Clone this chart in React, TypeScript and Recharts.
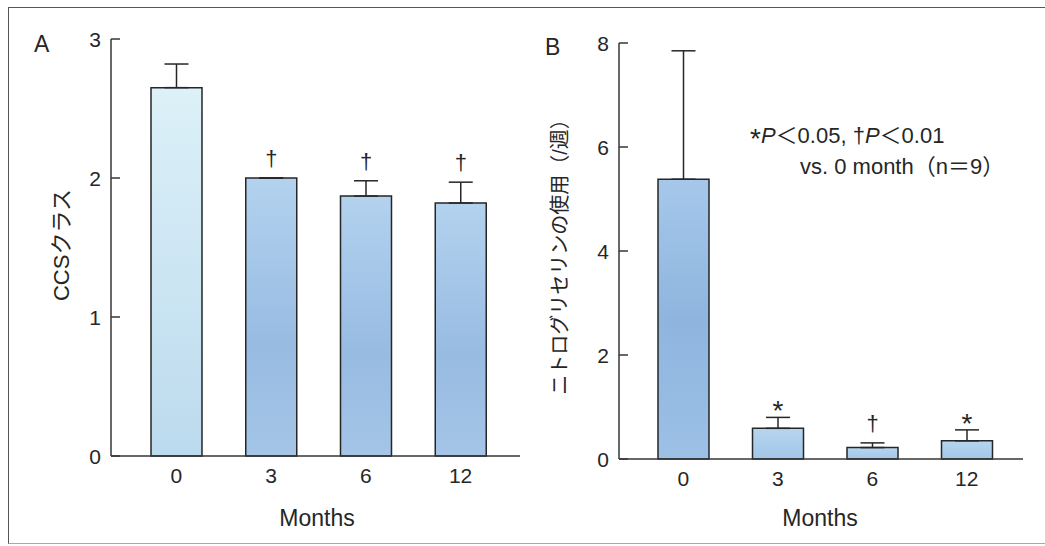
import React from 'react';
import { BarChart, Bar, XAxis, YAxis, ErrorBar, Cell, LabelList, Label } from 'recharts';

// months after treatment
const months = ['0', '3', '6', '12'];

// panel A: CCS class
const ccsMean = [2.65, 2.0, 1.87, 1.82];
const ccsSem = [0.17, 0, 0.11, 0.15];
const ccsMarks = ['', '†', '†', '†'];
const ccsTicks = [0, 1, 2, 3];

// panel B: nitroglycerin use per week
const ntgMean = [5.38, 0.59, 0.22, 0.35];
const ntgSem = [2.47, 0.21, 0.09, 0.21];
const ntgMarks = ['', '*', '†', '*'];
const ntgTicks = [0, 2, 4, 6, 8];

const FONT = '"Liberation Sans", Arial, "Noto Sans CJK JP", sans-serif';
const JP = '"Liberation Sans", "Noto Sans CJK JP", sans-serif';
const INK = '#262626';
const AXIS = '#363636';

const ccsData = months.map((m, i) => ({ month: m, mean: ccsMean[i], err: [0, ccsSem[i]], mark: ccsMarks[i] }));
const ntgData = months.map((m, i) => ({ month: m, mean: ntgMean[i], err: [0, ntgSem[i]], mark: ntgMarks[i] }));

const ccsFills = ['url(#aLight)', 'url(#aBlue)', 'url(#aBlue)', 'url(#aBlue)'];
const ntgFills = ['url(#bBlue)', 'url(#bLight)', 'url(#bLight)', 'url(#bLight)'];

function YTick(props: any) {
  const { x, y, payload } = props;
  return (
    <g>
      <line x1={x} y1={y} x2={x + 9} y2={y} stroke={AXIS} strokeWidth={1.5} />
      <text x={x - 10} y={y} dy="0.36em" textAnchor="end" fontSize={21} fill={INK} fontFamily={FONT}>
        {payload.value}
      </text>
    </g>
  );
}

function marker(sem: number[], mean: number[]) {
  return (props: any) => {
    const vb = props.viewBox || props;
    const { x, y, width, height } = vb;
    const i = props.index;
    const m = props.value;
    if (!m || i == null) return null;
    const perUnit = height / mean[i];
    const top = y - sem[i] * perUnit;
    const star = m === '*';
    return (
      <text
        x={x + width / 2}
        y={star ? top + 3 : top - 12}
        textAnchor="middle"
        fontSize={star ? 28 : 22}
        fill={INK}
        fontFamily={FONT}
      >
        {m}
      </text>
    );
  };
}

function yTitle(text: string, cx: number, cy: number, size: number) {
  return (
    <Label
      content={() => (
        <text
          x={cx}
          y={cy}
          transform={`rotate(-90 ${cx} ${cy})`}
          textAnchor="middle"
          dy="0.36em"
          fontSize={size}
          fill={INK}
          fontFamily={JP}
        >
          {text}
        </text>
      )}
    />
  );
}

function xTitle(cx: number, cy: number) {
  return (
    <Label
      content={() => (
        <text x={cx} y={cy} textAnchor="middle" dy="0.36em" fontSize={23} fill={INK} fontFamily={FONT}>
          Months
        </text>
      )}
    />
  );
}

export default function App() {
  return (
    <div style={{ position: 'absolute', left: 0, top: 0, width: 1045, height: 546, background: '#fff', overflow: 'hidden' }}>
      <div style={{ position: 'absolute', left: 8, top: 7, width: 1040, height: 535, borderLeft: '1.5px solid #555', borderTop: '1.5px solid #555', borderBottom: '1px solid #aaa' }} />

      <div style={{ position: 'absolute', left: 0, top: 0 }}>
        <BarChart width={540} height={546} data={ccsData} margin={{ top: 39, left: 51, right: 20, bottom: 60 }}>
          <defs>
            <linearGradient id="aLight" x1="0" y1="0" x2="0" y2="1">
              <stop offset="0%" stopColor="#dcf1f8" />
              <stop offset="100%" stopColor="#bcdaee" />
            </linearGradient>
            <linearGradient id="aBlue" x1="0" y1="0" x2="0" y2="1">
              <stop offset="0%" stopColor="#b2d2ee" />
              <stop offset="60%" stopColor="#98bbe2" />
              <stop offset="100%" stopColor="#a4c5e6" />
            </linearGradient>
          </defs>
          <XAxis
            dataKey="month"
            height={30}
            padding={{ left: 18, right: 12 }}
            tickLine={false}
            tickSize={0}
            tickMargin={12}
            axisLine={{ stroke: AXIS, strokeWidth: 1.5 }}
            tick={{ fontSize: 21, fill: INK, fontFamily: FONT }}
          >
            {xTitle(317, 518)}
          </XAxis>
          <YAxis
            width={60}
            domain={[0, 3]}
            ticks={ccsTicks}
            tickSize={0}
            tickMargin={0}
            tickLine={false}
            axisLine={{ stroke: AXIS, strokeWidth: 1.5 }}
            tick={(p: any) => <YTick {...p} />}
          >
            {yTitle('CCSクラス', 61, 245, 22)}
          </YAxis>
          <Bar dataKey="mean" barSize={51} stroke={INK} strokeWidth={1.5} isAnimationActive={false}>
            {ccsData.map((d, i) => (
              <Cell key={d.month} fill={ccsFills[i]} />
            ))}
            <ErrorBar dataKey="err" width={12} stroke={INK} strokeWidth={1.5} direction="y" isAnimationActive={false} />
            <LabelList dataKey="mark" content={marker(ccsSem, ccsMean)} />
          </Bar>
        </BarChart>
      </div>

      <div style={{ position: 'absolute', left: 540, top: 0 }}>
        <BarChart width={505} height={546} data={ntgData} margin={{ top: 43, left: 19, right: 22, bottom: 57 }}>
          <defs>
            <linearGradient id="bBlue" x1="0" y1="0" x2="0" y2="1">
              <stop offset="0%" stopColor="#a5c8ea" />
              <stop offset="50%" stopColor="#8fb5df" />
              <stop offset="100%" stopColor="#9cc0e6" />
            </linearGradient>
            <linearGradient id="bLight" x1="0" y1="0" x2="0" y2="1">
              <stop offset="0%" stopColor="#b6d5ef" />
              <stop offset="100%" stopColor="#a3c6e9" />
            </linearGradient>
          </defs>
          <XAxis
            dataKey="month"
            height={30}
            padding={{ left: 17, right: 9 }}
            tickLine={false}
            tickSize={0}
            tickMargin={12}
            axisLine={{ stroke: AXIS, strokeWidth: 1.5 }}
            tick={{ fontSize: 21, fill: INK, fontFamily: FONT }}
          >
            {xTitle(280, 518)}
          </XAxis>
          <YAxis
            width={60}
            domain={[0, 8]}
            ticks={ntgTicks}
            tickSize={0}
            tickMargin={0}
            tickLine={false}
            axisLine={{ stroke: AXIS, strokeWidth: 1.5 }}
            tick={(p: any) => <YTick {...p} />}
          >
            {yTitle('ニトログリセリンの使用（/週）', 20, 252, 20)}
          </YAxis>
          <Bar dataKey="mean" barSize={51} stroke={INK} strokeWidth={1.5} isAnimationActive={false}>
            {ntgData.map((d, i) => (
              <Cell key={d.month} fill={ntgFills[i]} />
            ))}
            <ErrorBar dataKey="err" width={12} stroke={INK} strokeWidth={1.5} direction="y" isAnimationActive={false} />
            <LabelList dataKey="mark" content={marker(ntgSem, ntgMean)} />
          </Bar>
        </BarChart>
      </div>

      <div style={{ position: 'absolute', left: 34, top: 31, fontFamily: FONT, fontSize: 23, color: INK }}>A</div>
      <div style={{ position: 'absolute', left: 545, top: 34, fontFamily: FONT, fontSize: 23, color: INK }}>B</div>

      <div style={{ position: 'absolute', left: 750, top: 120, fontFamily: JP, fontSize: 22, color: INK, lineHeight: '31px', whiteSpace: 'pre' }}>
        <div>
          <span style={{ fontSize: 28, lineHeight: '10px', position: 'relative', top: 5 }}>*</span>
          <i>P</i>＜0.05, †<i>P</i>＜0.01
        </div>
        <div style={{ paddingLeft: 50 }}>vs. 0 month（n＝9）</div>
      </div>
    </div>
  );
}
